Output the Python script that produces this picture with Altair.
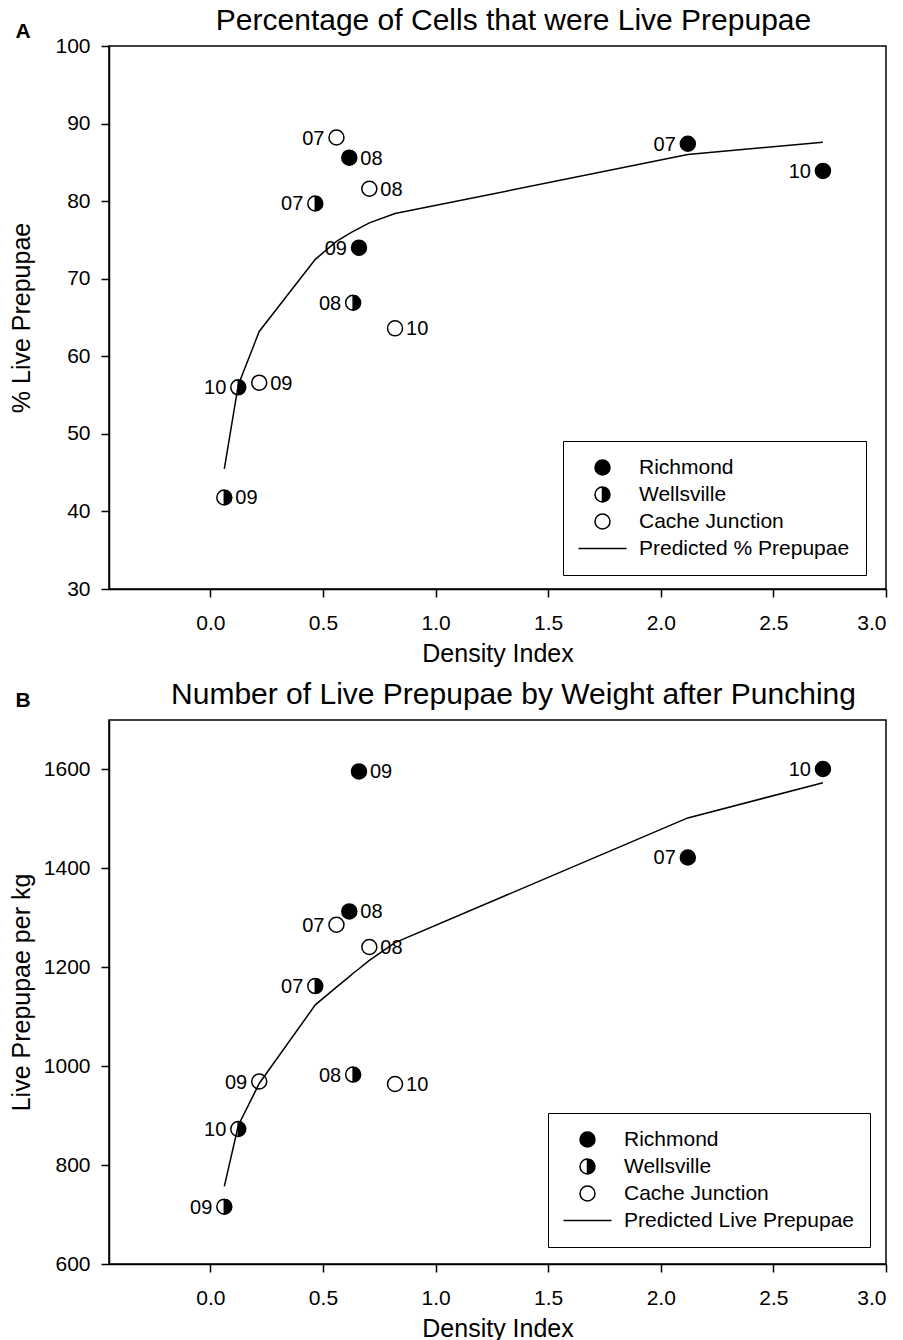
import altair as alt
import pandas as pd

FONT = "Liberation Sans"

# ---- data ----
sites = ["Richmond"] * 4 + ["Wellsville"] * 4 + ["Cache Junction"] * 4
years = ["07", "08", "09", "10"] * 3
density = [2.12, 0.617, 0.66, 2.72, 0.466, 0.634, 0.062, 0.124, 0.56, 0.706, 0.217, 0.82]
pct_live = [87.4, 85.6, 74.0, 83.9, 79.7, 66.9, 41.8, 56.0, 88.2, 81.6, 56.6, 63.6]
live_per_kg = [1422, 1313, 1596, 1601, 1162, 983, 716, 873, 1286, 1241, 969, 964]
label_side_a = ["left", "right", "left", "left", "left", "left", "right", "left",
                "left", "right", "right", "right"]
label_side_b = ["left", "right", "right", "left", "left", "left", "left", "left",
                "left", "right", "left", "right"]

pred_density = [0.062, 0.124, 0.217, 0.466, 0.56, 0.617, 0.634, 0.66, 0.706, 0.82, 2.12, 2.72]
pred_pct = [45.5, 56.3, 63.2, 72.5, 74.8, 75.8, 76.1, 76.5, 77.2, 78.4, 86.0, 87.6]
pred_per_kg = [757, 880, 965, 1124, 1160, 1181, 1188, 1197, 1214, 1250, 1502, 1573]

x_ticks = [0.0, 0.5, 1.0, 1.5, 2.0, 2.5, 3.0]
y_ticks_a = [30, 40, 50, 60, 70, 80, 90, 100]
y_ticks_b = [600, 800, 1000, 1200, 1400, 1600]
site_names = ["Richmond", "Wellsville", "Cache Junction"]
line_label_a = "Predicted % Prepupae"
line_label_b = "Predicted Live Prepupae"
title_a = "Percentage of Cells that were Live Prepupae"
title_b = "Number of Live Prepupae by Weight after Punching"
ytitle_a = "% Live Prepupae"
ytitle_b = "Live Prepupae per kg"
xtitle = "Density Index"
letters = ["A", "B"]

# symbol shapes (unit square coordinates)
HALF = "M0,-1A1,1 0 0,1 0,1A1,1 0 0,1 0,-1ZM0,-1A1,1 0 0,0 0,1Z"
LINE = "M-3.2,0L3.2,0"


def panel(values, sides, pred_vals, ydomain, yticks, ytitle, title, line_label,
          legend_x, legend_y, letter, letter_y, title_offset, height):
    df = pd.DataFrame({"site": sites, "year": years, "density": density,
                       "value": values, "side": sides})
    pdf = pd.DataFrame({"density": pred_density, "value": pred_vals})
    dom = site_names + [line_label]

    xenc = alt.X("density:Q",
                 scale=alt.Scale(domain=[-0.45, 3.0], nice=False, zero=False),
                 axis=alt.Axis(values=x_ticks, format=".1f", title=xtitle,
                               labelPadding=15, titlePadding=8))
    yenc = alt.Y("value:Q",
                 scale=alt.Scale(domain=ydomain, nice=False, zero=False),
                 axis=alt.Axis(values=yticks, format="d", title=ytitle,
                               labelPadding=11, titleX=-75, titleY=height / 2))

    leg = alt.Legend(orient="none", legendX=legend_x, legendY=legend_y,
                     title=None, strokeColor="black", fillColor="white",
                     padding=16, labelFontSize=21, labelFont=FONT,
                     labelColor="black", symbolSize=225, symbolStrokeWidth=1.5,
                     symbolStrokeColor="black", symbolOpacity=1,
                     symbolOffset=13, labelOffset=26, rowPadding=5,
                     labelLimit=400)

    base = alt.Chart(df).encode(x=xenc, y=yenc)
    points = base.mark_point(filled=True, opacity=1, stroke="black",
                             strokeWidth=1.5, size=225).encode(
        shape=alt.Shape("site:N", scale=alt.Scale(domain=dom,
                        range=["circle", HALF, "circle", LINE]), legend=leg),
        fill=alt.Fill("site:N", scale=alt.Scale(domain=dom,
                      range=["black", "black", "white", "black"]), legend=leg),
        stroke=alt.Stroke("site:N", scale=alt.Scale(domain=dom,
                          range=["black", "black", "black", "black"]), legend=leg),
    )
    left_lab = base.transform_filter(alt.datum.side == "left").mark_text(
        align="right", baseline="middle", dx=-12, dy=1, fontSize=20, font=FONT,
        color="black").encode(text="year:N")
    right_lab = base.transform_filter(alt.datum.side == "right").mark_text(
        align="left", baseline="middle", dx=11, dy=1, fontSize=20, font=FONT,
        color="black").encode(text="year:N")
    line = alt.Chart(pdf).mark_line(color="black", strokeWidth=1.5).encode(
        x=alt.X("density:Q"), y=alt.Y("value:Q"))
    let = alt.Chart(pd.DataFrame({"t": [letter]})).mark_text(
        fontSize=21, fontWeight="bold", font=FONT, color="black",
        align="center", baseline="alphabetic").encode(
        x=alt.value(-86), y=alt.value(letter_y), text="t:N")

    return alt.layer(points, left_lab, right_lab, line, let).properties(
        width=777, height=height,
        title=alt.TitleParams(text=title, fontSize=30, font=FONT,
                              fontWeight="normal", color="black",
                              anchor="middle", dx=16, offset=title_offset),
    )


pa = panel(pct_live, label_side_a, pred_pct, [30, 100], y_ticks_a, ytitle_a,
           title_a, line_label_a, 454, 395, letters[0], -8, -15, 543)
pb = panel(live_per_kg, label_side_b, pred_per_kg, [600, 1700], y_ticks_b,
           ytitle_b, title_b, line_label_b, 439, 393, letters[1], -13, -20, 544)

chart = alt.vconcat(pa, pb, spacing=12).resolve_scale(
    x="independent", y="independent", shape="independent", fill="independent",
    stroke="independent"
).resolve_legend(shape="independent", fill="independent",
                 stroke="independent").properties(
    padding={"left": 8, "top": 5, "right": 10, "bottom": 2},
    background="white",
).configure_view(stroke="black", strokeWidth=1.5).configure_axis(
    domainColor="black", domainWidth=1.5, tickColor="black", tickWidth=1.5,
    tickSize=8, labelFontSize=21, labelFont=FONT, labelColor="black",
    titleFont=FONT, titleFontSize=25, titleFontWeight="normal",
    titleColor="black", grid=False,
)

chart.save("out.html", embed_options={"renderer": "svg", "actions": False})
